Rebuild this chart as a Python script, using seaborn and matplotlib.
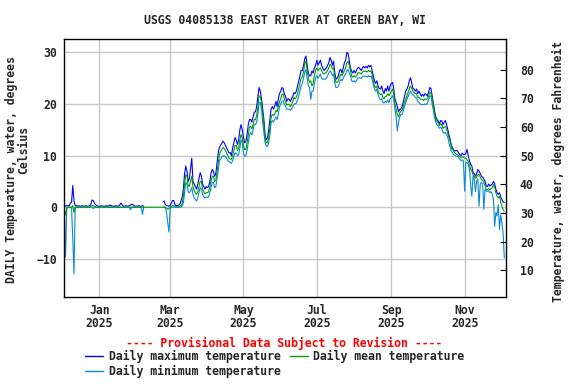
import numpy as np
import pandas as pd
import matplotlib
matplotlib.use("Agg")
import matplotlib.pyplot as plt
import matplotlib.dates as mdates
from matplotlib.lines import Line2D
import seaborn as sns

nan = np.nan

# first day of each monthly row below
month_starts = ["2024-12-03", "2025-01-01", "2025-02-01", "2025-03-01", "2025-04-01",
                "2025-05-01", "2025-06-01", "2025-07-01", "2025-08-01", "2025-09-01",
                "2025-10-01", "2025-11-01", "2025-12-01"]
month_days = [29, 31, 28, 31, 30, 31, 30, 31, 31, 30, 31, 30, 4]

# Daily maximum, deg C
daily_max = [
    [0.4, 0.2, 0.3, 0.3, 0.3, 0.8, 1.0, 4.2, 1.2, 0.3,
     0.3, 0.2, 0.3, 0.2, 0.2, 0.3, 0.2, 0.2, 0.3, 0.2,
     0.2, 0.3, 0.5, 1.4, 1.3, 0.8, 0.5, 0.3, 0.2],
    [0.2, 0.2, 0.3, 0.2, 0.2, 0.2, 0.3, 0.2, 0.3, 0.4,
     0.3, 0.2, 0.2, 0.2, 0.3, 0.2, 0.2, 0.4, 0.8, 0.5,
     0.2, 0.2, 0.3, 0.2, 0.2, 0.3, 0.4, 0.6, 0.5, 0.3,
     0.2],
    [0.2, 0.2, 0.3, 0.2, 0.2, 0.3, 0.2, nan, nan, nan,
     nan, nan, nan, nan, nan, nan, nan, nan, nan, nan,
     nan, nan, 1.0, 1.2, 0.5, 0.3, 0.3, 0.2],
    [0.3, 0.8, 1.3, 1.3, 0.5, 0.3, 0.3, 0.4, 0.5, 1.2,
     2.0, 3.5, 6.5, 8.0, 7.0, 5.0, 5.5, 7.5, 9.5, 5.0,
     4.5, 4.0, 3.5, 4.5, 5.5, 6.7, 6.0, 4.5, 4.0, 3.5,
     4.0],
    [3.8, 4.0, 5.0, 6.5, 7.3, 7.0, 6.0, 6.5, 8.5, 10.5,
     11.6, 12.0, 12.4, 12.8, 12.5, 12.0, 11.5, 11.0, 10.5, 10.6,
     10.0, 11.5, 12.5, 13.5, 13.0, 12.2, 13.0, 15.0, 16.0, 15.0],
    [13.5, 12.5, 12.8, 14.0, 16.0, 17.0, 17.0, 16.5, 17.5, 18.4,
     18.5, 19.5, 21.5, 23.2, 22.5, 21.0, 19.0, 17.0, 14.0, 13.1,
     13.5, 15.0, 17.0, 19.0, 19.5, 19.0, 19.6, 20.5, 19.5, 21.0,
     22.0],
    [22.5, 23.2, 23.0, 22.0, 21.5, 20.5, 21.0, 20.9, 20.5, 21.0,
     21.5, 22.2, 22.0, 22.5, 23.5, 24.5, 25.5, 26.5, 26.5, 27.5,
     28.8, 29.3, 27.5, 26.0, 25.4, 25.5, 26.4, 26.0, 27.0, 27.5],
    [28.5, 27.5, 28.0, 28.5, 27.5, 27.0, 26.5, 26.7, 27.0, 27.5,
     28.0, 29.0, 28.5, 27.5, 28.3, 26.0, 24.8, 25.0, 25.5, 26.5,
     26.7, 26.0, 27.0, 28.0, 28.5, 30.0, 29.8, 28.5, 27.0, 26.4,
     26.0],
    [26.5, 26.0, 26.5, 27.0, 27.1, 26.8, 26.5, 27.0, 27.3, 27.0,
     27.3, 27.0, 27.5, 27.2, 27.5, 26.5, 25.5, 24.5, 24.0, 24.5,
     23.5, 23.0, 22.9, 23.5, 22.5, 22.0, 23.0, 22.5, 23.5, 22.5,
     23.5],
    [24.0, 24.2, 23.0, 21.0, 20.3, 19.5, 18.5, 19.0, 19.0, 19.5,
     20.5, 21.5, 22.5, 22.9, 23.5, 24.5, 25.1, 24.0, 23.0, 22.9,
     22.5, 22.9, 22.0, 22.5, 22.0, 21.5, 21.9, 21.5, 22.0, 21.9],
    [21.5, 22.3, 23.2, 23.0, 21.5, 20.0, 18.6, 17.5, 17.0, 16.7,
     16.2, 16.8, 16.7, 16.0, 16.5, 16.8, 16.0, 15.0, 14.0, 13.1,
     12.0, 11.5, 11.0, 10.9, 11.0, 10.9, 10.5, 10.2, 10.0, 10.5,
     10.2],
    [10.2, 10.5, 11.2, 10.0, 9.0, 8.3, 8.0, 6.7, 6.5, 6.0,
     6.5, 7.3, 7.0, 6.5, 6.0, 5.8, 5.5, 5.0, 4.1, 4.0,
     4.5, 4.1, 4.3, 4.5, 5.0, 4.5, 3.5, 2.8, 2.5, 2.8],
    [2.0, 1.5, 1.0, 0.9],
]

# Daily mean, deg C
daily_mean = [
    [-0.3, -1.5, -0.3, 0.0, 0.0, 0.0, 0.0, 0.3, -1.0, 0.0,
     0.0, 0.0, 0.0, 0.0, 0.0, 0.0, 0.0, 0.0, 0.0, 0.0,
     0.0, 0.0, 0.1, 0.3, 0.3, 0.2, 0.1, 0.0, 0.0],
    [0.0, 0.0, 0.0, 0.0, 0.0, 0.0, 0.0, 0.0, 0.0, 0.0,
     0.0, 0.0, 0.0, 0.0, 0.0, 0.0, 0.0, 0.0, 0.0, 0.0,
     0.0, 0.0, 0.0, 0.0, 0.0, 0.0, 0.0, 0.0, 0.0, 0.0,
     0.0],
    [0.0, 0.0, 0.0, 0.0, 0.0, 0.0, 0.0, 0.0, 0.0, 0.0,
     0.0, 0.0, 0.0, 0.0, 0.0, 0.0, 0.0, 0.0, 0.0, 0.0,
     0.0, 0.0, 0.0, 0.0, 0.0, -0.2, -0.4, -0.3],
    [0.0, 0.2, 0.3, 0.3, 0.2, 0.1, 0.1, 0.1, 0.2, 0.3,
     0.8, 2.0, 4.5, 6.3, 6.0, 4.2, 4.0, 5.0, 6.0, 4.0,
     3.2, 2.8, 2.5, 3.0, 4.0, 5.0, 5.0, 3.5, 3.0, 2.6,
     2.8],
    [2.8, 3.0, 3.8, 5.0, 6.0, 6.0, 5.0, 5.2, 6.8, 8.5,
     10.2, 10.8, 11.2, 11.6, 11.4, 11.0, 10.5, 10.0, 9.5, 9.3,
     9.3, 10.0, 11.0, 12.0, 12.0, 11.0, 11.5, 13.0, 14.1, 13.5],
    [12.0, 11.2, 11.2, 12.5, 14.0, 15.5, 15.7, 15.2, 16.0, 17.0,
     17.0, 17.8, 19.5, 21.6, 21.5, 20.3, 18.0, 15.5, 13.5, 12.5,
     12.5, 13.5, 15.5, 17.4, 18.0, 17.8, 18.0, 18.8, 18.5, 19.5,
     20.5],
    [21.0, 21.9, 21.9, 21.0, 20.3, 19.8, 20.0, 19.9, 19.5, 19.9,
     20.5, 21.3, 21.0, 21.3, 22.0, 23.0, 24.0, 25.0, 25.3, 26.3,
     27.8, 28.3, 26.5, 25.0, 24.2, 24.5, 23.5, 24.0, 25.5, 26.5],
    [27.0, 26.5, 26.8, 27.0, 26.5, 26.0, 25.8, 26.0, 26.1, 26.5,
     27.0, 27.7, 27.5, 26.8, 27.0, 25.0, 24.2, 24.2, 24.5, 25.3,
     25.8, 25.5, 26.0, 26.5, 27.0, 28.0, 28.3, 27.5, 26.5, 25.4,
     25.2],
    [25.5, 25.2, 25.5, 26.0, 26.1, 26.0, 25.8, 26.2, 26.4, 26.3,
     26.4, 26.2, 26.5, 26.3, 26.4, 25.8, 24.5, 23.5, 23.2, 23.5,
     22.5, 22.0, 21.8, 22.0, 21.2, 21.0, 21.5, 21.5, 22.0, 21.6,
     22.0],
    [22.5, 22.9, 22.0, 20.0, 19.0, 18.0, 17.5, 18.3, 18.6, 18.8,
     19.5, 20.3, 21.0, 21.6, 22.3, 23.0, 23.5, 23.0, 22.5, 22.2,
     22.0, 22.0, 21.3, 21.3, 21.0, 20.9, 20.9, 20.7, 21.0, 20.9],
    [21.0, 21.5, 22.2, 22.2, 21.0, 19.5, 18.0, 17.0, 16.6, 16.4,
     15.8, 16.2, 16.0, 15.3, 15.5, 15.6, 15.1, 14.3, 13.5, 12.8,
     11.5, 11.2, 10.8, 10.5, 10.3, 10.2, 10.0, 9.8, 9.6, 9.8,
     9.7],
    [9.5, 9.5, 9.2, 8.9, 8.3, 7.3, 7.0, 6.3, 6.0, 5.6,
     5.8, 6.3, 6.3, 5.8, 5.4, 5.2, 4.8, 4.2, 3.4, 3.4,
     3.6, 3.4, 3.6, 3.8, 4.4, 3.8, 2.8, 2.1, 1.8, 2.1],
    [1.0, 0.2, -0.5, -0.8],
]

# Daily minimum, deg C
daily_min = [
    [-0.3, -9.6, 0.0, 0.0, 0.0, 0.0, -0.2, -6.0, -12.9, -0.3,
     0.0, 0.0, 0.0, 0.0, 0.0, 0.0, 0.0, 0.0, 0.0, 0.0,
     0.0, 0.0, 0.0, 0.0, -0.3, 0.0, 0.0, 0.0, 0.0],
    [0.0, 0.0, 0.0, 0.0, 0.0, 0.0, 0.0, 0.0, 0.0, 0.0,
     0.0, 0.0, 0.0, 0.0, 0.0, 0.0, 0.0, 0.0, 0.0, 0.0,
     0.0, 0.0, 0.0, 0.0, 0.0, 0.0, -0.5, 0.0, 0.0, 0.0,
     0.0],
    [0.0, 0.0, 0.0, 0.0, 0.0, -1.4, 0.0, nan, nan, nan,
     nan, nan, nan, nan, nan, nan, nan, nan, nan, nan,
     nan, nan, 0.0, 0.0, 0.0, -1.0, -3.0, -4.8],
    [-0.5, 0.0, 0.0, 0.0, 0.0, 0.0, 0.0, 0.0, 0.0, 0.0,
     0.2, 0.8, 2.8, 4.8, 4.5, 3.0, 2.8, 3.2, 3.8, 2.5,
     1.8, 1.5, 1.2, 1.8, 2.8, 3.8, 3.5, 2.5, 2.0, 1.8,
     2.0],
    [1.9, 2.0, 2.8, 3.8, 4.8, 4.8, 3.8, 4.0, 5.5, 7.0,
     9.0, 9.3, 9.8, 9.9, 10.0, 9.8, 9.5, 9.0, 8.8, 8.7,
     8.5, 9.0, 9.8, 10.5, 10.5, 10.0, 10.2, 11.5, 13.0, 12.5],
    [10.5, 9.9, 10.0, 11.0, 12.5, 14.0, 14.5, 14.0, 15.0, 16.0,
     16.0, 16.5, 18.0, 20.3, 20.3, 19.0, 16.5, 14.5, 12.5, 11.8,
     11.8, 12.5, 14.0, 16.4, 16.8, 16.5, 17.0, 17.5, 17.0, 18.0,
     19.5],
    [20.0, 20.6, 20.6, 20.0, 19.5, 19.0, 19.0, 19.0, 18.8, 19.0,
     19.5, 20.0, 20.0, 20.2, 20.8, 21.5, 22.5, 23.5, 24.0, 25.0,
     26.2, 26.7, 25.0, 23.5, 23.2, 20.9, 22.5, 22.5, 24.0, 25.0],
    [25.5, 25.0, 25.4, 25.8, 25.0, 24.8, 24.8, 24.8, 25.0, 25.5,
     26.0, 26.4, 26.2, 25.5, 25.8, 24.0, 23.2, 23.2, 23.5, 24.2,
     24.8, 24.5, 25.0, 25.5, 25.8, 26.5, 26.7, 26.0, 25.5, 24.5,
     24.3],
    [24.5, 24.3, 24.5, 25.0, 25.1, 25.0, 25.0, 25.3, 25.4, 25.4,
     25.4, 25.2, 25.5, 25.3, 25.4, 24.8, 23.8, 22.9, 22.5, 22.9,
     21.8, 21.2, 20.8, 21.0, 20.3, 20.2, 20.5, 20.3, 20.8, 20.3,
     21.0],
    [21.2, 21.6, 21.0, 19.0, 17.5, 14.8, 16.5, 17.5, 18.0, 18.0,
     18.8, 19.5, 20.3, 20.9, 21.5, 22.0, 22.5, 22.0, 21.8, 21.6,
     21.3, 21.2, 20.5, 20.3, 20.0, 19.9, 19.9, 19.9, 20.0, 19.9],
    [20.2, 20.8, 21.6, 21.5, 20.0, 18.8, 17.4, 16.5, 16.0, 15.7,
     15.3, 15.5, 15.2, 14.5, 14.3, 14.5, 14.1, 13.5, 12.5, 11.6,
     10.8, 10.5, 10.2, 10.0, 9.9, 9.9, 9.6, 9.3, 9.0, 9.2,
     9.0],
    [3.1, 8.8, 8.6, 8.3, 7.5, 4.5, 2.1, 6.0, 5.5, 3.0,
     5.0, 5.5, 0.2, 4.5, 4.8, 4.5, -0.4, 3.5, 3.1, 3.1,
     3.2, 2.8, 3.0, 2.5, 1.5, -3.7, -1.0, -1.7, 0.5, -4.3],
    [-1.5, -3.0, -5.0, -9.8],
]

labels = ["Daily maximum temperature", "Daily minimum temperature", "Daily mean temperature"]
colors = ["#0000FF", "#0A8AD6", "#00A000"]

# one frame per series, month by month
frames = []
for name, rows in zip(labels, [daily_max, daily_min, daily_mean]):
    parts = []
    for start, n, row in zip(month_starts, month_days, rows):
        if len(row) != n:
            raise ValueError(f"{name} {start}: {len(row)} values, expected {n}")
        parts.append(pd.DataFrame({"date": pd.date_range(start, periods=n, freq="D"),
                                   "temp": row}))
    s = pd.concat(parts, ignore_index=True)
    s["series"] = name
    # new segment after each gap, so missing days stay unconnected
    s["segment"] = name + s["temp"].isna().cumsum().astype(str)
    frames.append(s.dropna())
long_df = pd.concat(frames, ignore_index=True)

sns.set_style("white")
plt.rcParams["font.family"] = ["DejaVu Sans Mono"]
plt.rcParams["font.weight"] = "bold"
plt.rcParams["font.size"] = 8.3

fig = plt.figure(figsize=(5.76, 3.84), dpi=100)
ax = fig.add_axes([64 / 576, 1 - 297 / 384, 442 / 576, 258 / 384])

sns.lineplot(data=long_df, x="date", y="temp", hue="series", hue_order=labels,
             units="segment", palette=dict(zip(labels, colors)), estimator=None,
             linewidth=0.8, legend=False, ax=ax)

ylim_c = (-17.4, 32.6)
ax.set_ylim(*ylim_c)
ax.set_xlim(pd.Timestamp("2024-12-02 17:00"), pd.Timestamp("2025-12-05 10:00"))
ax.set_yticks([-10, 0, 10, 20, 30])
ax.xaxis.set_major_locator(mdates.MonthLocator(bymonth=[1, 3, 5, 7, 9, 11]))
ax.xaxis.set_major_formatter(mdates.DateFormatter("%b\n%Y"))
for t in ax.get_xticklabels():
    t.set_linespacing(1.05)
ax.grid(True, color="#C8C8C8", linewidth=1)
ax.tick_params(axis="x", length=0, pad=5)
ax.tick_params(axis="y", length=0, pad=5)
ax.set_xlabel("")
ax.set_ylabel("")
for s in ax.spines.values():
    s.set_color("black")
    s.set_linewidth(1)

ax2 = ax.twinx()
ax2.set_ylim(ylim_c[0] * 9 / 5 + 32, ylim_c[1] * 9 / 5 + 32)
ax2.set_yticks([10, 20, 30, 40, 50, 60, 70, 80])
ax2.tick_params(axis="y", direction="in", length=4, pad=10, color="black")
ax2.set_ylabel("Temperature, water, degrees Fahrenheit", fontweight="bold")
ax2.yaxis.set_label_coords(1.104, 0.488)
for s in ax2.spines.values():
    s.set_visible(False)

fig.text(11.5 / 576, 1 - 170 / 384, "DAILY Temperature, water, degrees",
         rotation=90, ha="center", va="center", fontweight="bold")
fig.text(24 / 576, 1 - 150 / 384, "Celsius",
         rotation=90, ha="center", va="center", fontweight="bold")
fig.text(285 / 576, 1 - 20 / 384, "USGS 04085138 EAST RIVER AT GREEN BAY, WI",
         ha="center", va="center", fontweight="bold")
fig.text(284 / 576, 1 - 343 / 384, "---- Provisional Data Subject to Revision ----",
         ha="center", va="center", color="red", fontweight="bold")

handles = [Line2D([], [], color=c, linewidth=1) for c in colors]
fig.legend(handles, labels, loc="upper left", bbox_to_anchor=(85 / 576, 1 - 350 / 384),
           ncol=2, frameon=False, handlelength=1.6, handletextpad=0.45,
           columnspacing=0.8, borderpad=0, borderaxespad=0, labelspacing=0.2)

fig.savefig("out.png", dpi=100)
